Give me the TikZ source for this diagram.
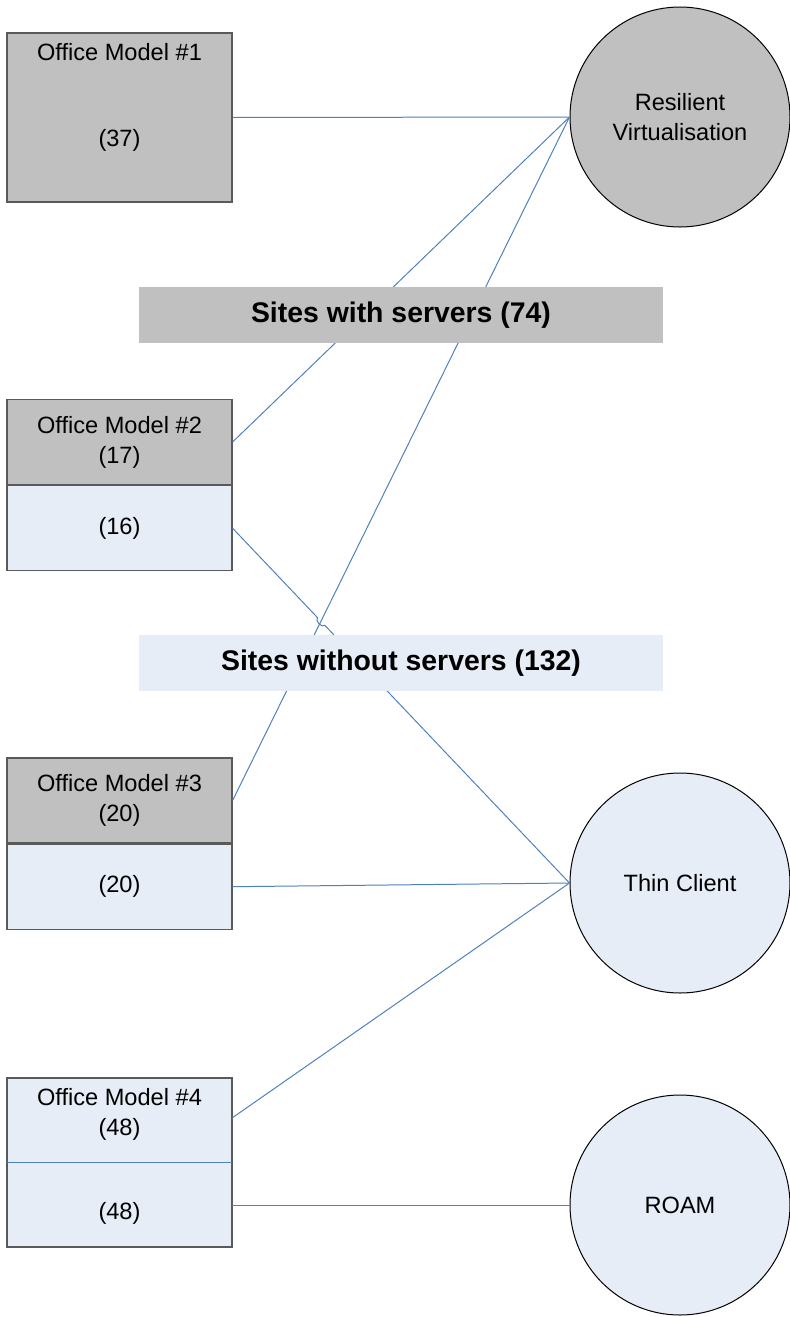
\documentclass[tikz,border=0pt]{standalone}
\usepackage{fontspec}
\setmainfont{Liberation Sans}
\usepackage{xcolor}
\usetikzlibrary{positioning}
\usetikzlibrary{calc}

\definecolor{srvgray}{RGB}{192,192,192}
\definecolor{thinblue}{RGB}{231,237,247}
\definecolor{linkblue}{RGB}{79,129,189}
\definecolor{edgegray}{RGB}{90,90,90}

\begin{document}
\begin{tikzpicture}[
    x=0.5pt, y=-0.5pt,
    every node/.style={font=\fontsize{11.8}{15}\selectfont},
    omodel/.style={draw=edgegray, line width=0.6pt, minimum width=112.5pt, minimum height=84.5pt, inner sep=0pt},
    half/.style={draw=edgegray, line width=0.6pt, minimum width=112.5pt, minimum height=42.5pt, inner sep=0pt, align=center},
    solution/.style={circle, draw=black, line width=0.5pt, minimum size=110pt, inner sep=0pt, align=center},
    banner/.style={minimum width=262pt, minimum height=28pt, inner sep=0pt, font=\fontsize{14.2}{17}\selectfont\bfseries},
    link/.style={draw=linkblue, line width=0.5pt}
]
    \useasboundingbox (0,0) rectangle (789,1317);

    % Office models
    \node[omodel, fill=srvgray] (om1) at (119.5,117.5) {};
    \node (om1title) at (119.5,52) {Office Model \#1};
    \node (om1count) at (119.5,140) {(37)};

    \node[half, fill=srvgray] (om2top) at (119.5,442) {Office Model \#2\\(17)};
    \node[half, fill=thinblue, below=0pt of om2top] (om2bot) {(16)};

    \node[half, fill=srvgray] (om3top) at (119.5,800.5) {Office Model \#3\\(20)};
    \node[half, fill=thinblue, below=0pt of om3top] (om3bot) {(20)};

    \node[omodel, fill=thinblue] (om4) at (119.5,1162.5) {};
    \node[inner sep=0pt, align=center] (om4top) at (119.5,1114) {Office Model \#4\\(48)};
    \node (om4bot) at (119.5,1213) {(48)};
    \coordinate (om4l) at (7,1162);
    \coordinate (om4r) at (232,1162);
    \draw[link] (om4l) -- (om4r);
    \coordinate (om4topr) at (232,1118);
    \coordinate (om4botr) at (232,1205);

    % Solutions
    \node[solution, fill=srvgray] (resv) at (680,117) {Resilient\\Virtualisation};
    \node[solution, fill=thinblue] (thin) at (680,883) {Thin Client};
    \node[solution, fill=thinblue] (roam) at (680,1205) {ROAM};

    % Links
    \draw[link] (om1.east) -- (resv.west);
    \draw[link] (om2top.east) -- (resv.west);
    \draw[link] (om3top.east) -- (resv.west);
    \draw[link] (om2bot.east) -- ($(om2bot.east)!0.252!(thin.west)$)
        to[bend right=90] ($(om2bot.east)!0.274!(thin.west)$) -- (thin.west);
    \draw[link] (om3bot.east) -- (thin.west);
    \draw[link] (om4topr) -- (thin.west);
    \draw[link] (om4botr) -- (roam.west);

    % Site groups
    \node[banner, fill=srvgray] (withsrv) at (401,315) {Sites with servers (74)};
    \node[banner, fill=thinblue] (nosrv) at (401,663) {Sites without servers (132)};
\end{tikzpicture}
\end{document}
